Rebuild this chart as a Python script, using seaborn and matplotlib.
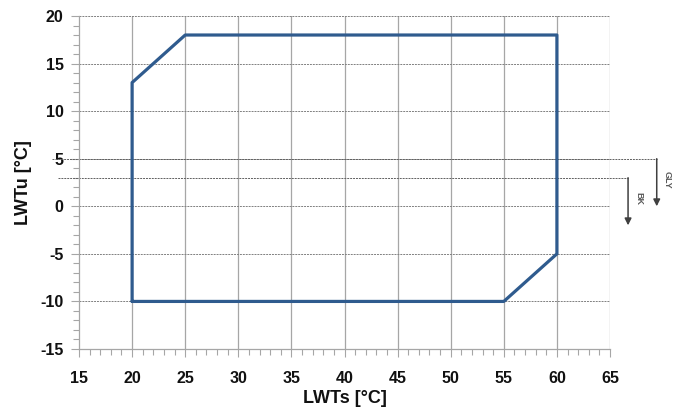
import matplotlib
matplotlib.use("Agg")
import matplotlib.pyplot as plt
import seaborn as sns
import pandas as pd
import numpy as np

# Envelope polygon (LWTs, LWTu)
lwts = [20, 20, 25, 60, 60, 55, 20]
lwtu = [-10, 13, 18, 18, -5, -10, -10]

# Reference limits
ref_levels = [5, 3]
ref_labels = ["GLY", "BK"]
ref_arrow_x = [69.4, 66.7]
ref_arrow_end = [0.0, -2.0]
ref_line_start = [12.5, 13.0]

x_ticks = [15, 20, 25, 30, 35, 40, 45, 50, 55, 60, 65]
y_ticks = [-15, -10, -5, 0, 5, 10, 15, 20]

sns.set_theme(style="white")
plt.rcParams['font.family'] = ['Liberation Sans', 'DejaVu Sans']
plt.rcParams['font.weight'] = 'bold'
plt.rcParams['axes.unicode_minus'] = False

fig = plt.figure(figsize=(6.73, 4.12), dpi=100)
ax = fig.add_axes([0.1174, 0.1529, 0.789, 0.8083])

df = pd.DataFrame({"LWTs": lwts, "LWTu": lwtu})
sns.lineplot(data=df, x="LWTs", y="LWTu", sort=False, estimator=None,
             color="#2F5B8E", linewidth=2.3, ax=ax, zorder=5)

ax.set_xlim(15, 65)
ax.set_ylim(-15, 20)
ax.set_xticks(x_ticks)
ax.set_yticks(y_ticks)
ax.set_xticks(np.arange(15, 66, 1), minor=True)
ax.set_yticks(np.arange(-15, 21, 1), minor=True)

for x in x_ticks[1:]:
    ax.axvline(x, color="#A6A6A6", linewidth=0.9, zorder=1)
for y in y_ticks[1:]:
    ax.axhline(y, color="#808080", linewidth=0.7, linestyle=(0, (2, 1)), zorder=1)

for s in ["top", "right"]:
    ax.spines[s].set_visible(False)
for s in ["left", "bottom"]:
    ax.spines[s].set_color("#A6A6A6")
    ax.spines[s].set_linewidth(0.9)

ax.tick_params(axis="both", which="major", direction="out", length=6, width=0.8,
               color="#A6A6A6", labelsize=11.5, pad=5, labelcolor="#111111")
ax.tick_params(axis="both", which="minor", direction="out", length=4, width=0.8,
               color="#A6A6A6")
ax.tick_params(axis="both", bottom=True, left=True, which="both")
ax.tick_params(axis="x", pad=10)

ax.set_xlabel("LWTs [°C]", fontsize=13, fontweight="bold", labelpad=3, color="#111111")
ax.set_ylabel("LWTu [°C]", fontsize=13, fontweight="bold", labelpad=6, color="#111111")

for lvl, lab, ax_x, end, start in zip(ref_levels, ref_labels, ref_arrow_x, ref_arrow_end, ref_line_start):
    ax.plot([start, ax_x], [lvl, lvl], color="#606060", linewidth=0.7,
            linestyle=(0, (2, 1)), clip_on=False, zorder=2)
    ax.annotate("", xy=(ax_x, end), xytext=(ax_x, lvl),
                arrowprops=dict(arrowstyle="-|>", color="#404040", lw=1.1,
                                mutation_scale=10, shrinkA=0, shrinkB=0),
                annotation_clip=False)
    ax.text(ax_x + 1.0, (lvl + end) / 2 + 0.3, lab, rotation=-90, fontsize=6.5,
            fontweight="bold", color="#595959", ha="center", va="center",
            clip_on=False)

fig.savefig("out.png", dpi=100)
